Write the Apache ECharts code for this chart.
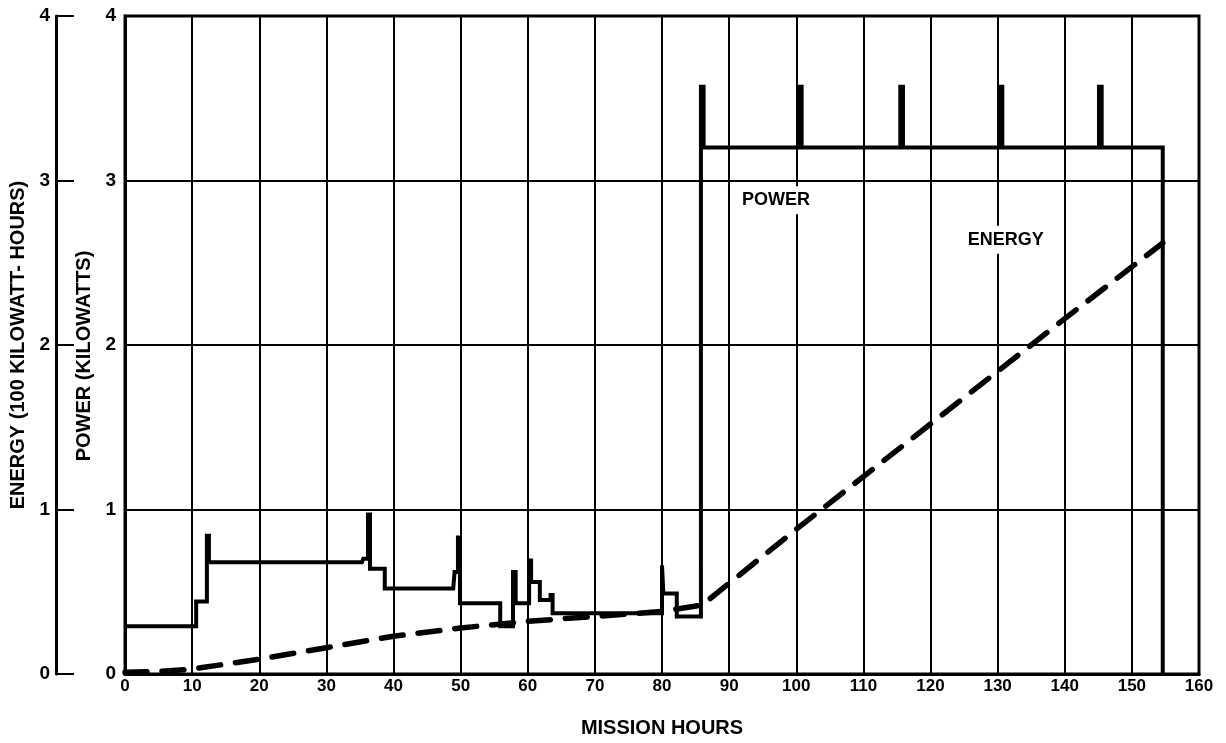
<!DOCTYPE html>
<html>
<head>
<meta charset="utf-8">
<script src="https://cdn.jsdelivr.net/npm/echarts@6/dist/echarts.min.js"></script>
<style>
  html, body { margin: 0; padding: 0; background: #ffffff; }
  #chart { width: 1226px; height: 743px; }
</style>
</head>
<body>
<div id="chart"></div>
<script>
// ---- data (mission hours, value) ----
const xTicks = [0, 10, 20, 30, 40, 50, 60, 70, 80, 90, 100, 110, 120, 130, 140, 150, 160];
const yTicks = [0, 1, 2, 3, 4];

// Power (kilowatts) as a stepped trace: hours
const powerHours = [
  0, 10.6, 10.6, 12.2, 12.2, 12.5, 12.5, 35.3, 35.5, 36.2, 36.2, 36.5, 36.5, 38.7, 38.7,
  48.9, 49.1, 49.6, 49.6, 49.9, 49.9, 55.9, 55.9, 57.8, 57.8, 58.2, 58.2, 60.2, 60.2, 60.5,
  60.5, 61.8, 61.8, 63.4, 63.4, 63.7, 63.7, 80.0, 80.0, 80.2, 80.2, 82.2, 82.2, 85.8, 85.8,
  86.2, 86.2, 100.4, 100.4, 100.8, 100.8, 115.5, 115.5, 115.9, 115.9, 130.3, 130.3, 130.7,
  130.7, 145.1, 145.1, 145.5, 145.5, 154.6, 154.6
];
// Power (kilowatts) values
const powerKW = [
  0.29, 0.29, 0.44, 0.44, 0.84, 0.84, 0.68, 0.68, 0.70, 0.70, 0.97, 0.97, 0.64, 0.64, 0.52,
  0.52, 0.62, 0.62, 0.83, 0.83, 0.43, 0.43, 0.29, 0.29, 0.62, 0.62, 0.43, 0.43, 0.69, 0.69,
  0.56, 0.56, 0.45, 0.45, 0.48, 0.48, 0.37, 0.37, 0.66, 0.66, 0.49, 0.49, 0.35, 0.35, 3.57,
  3.57, 3.20, 3.20, 3.57, 3.57, 3.20, 3.20, 3.57, 3.57, 3.20, 3.20, 3.57, 3.57,
  3.20, 3.20, 3.57, 3.57, 3.20, 3.20, 0
];

// Energy (100 kilowatt-hours)
const energyHours = [0, 5, 10, 20, 30, 40, 50, 60, 70, 80, 86, 100, 120, 140, 154.6];
const energyVal   = [0.01, 0.015, 0.03, 0.09, 0.16, 0.23, 0.28, 0.32, 0.35, 0.38, 0.42, 0.88, 1.52, 2.16, 2.62];

const labelTexts = { power: 'POWER', energy: 'ENERGY' };
const axisNames = {
  x: 'MISSION HOURS',
  power: 'POWER (KILOWATTS)',
  energy: 'ENERGY (100 KILOWATT- HOURS)'
};

// ---- build ----
const powerData = powerHours.map((h, i) => [h, powerKW[i]]);
const energyData = energyHours.map((h, i) => [h, energyVal[i]]);

const FONT = '"Liberation Sans", Arial, sans-serif';
const chart = echarts.init(document.getElementById('chart'), null, { renderer: 'canvas' });

const labelStyle = {
  show: true, position: 'inside', color: '#000', fontFamily: FONT, fontWeight: 'bold',
  fontSize: 18, backgroundColor: '#fff', padding: [5, 3]
};

chart.setOption({
  animation: false,
  backgroundColor: '#ffffff',
  grid: { left: 125, right: 27, top: 16, bottom: 61, show: true, borderColor: '#000', borderWidth: 3, backgroundColor: 'transparent' },
  xAxis: {
    type: 'value', min: xTicks[0], max: xTicks[xTicks.length - 1], interval: 10,
    axisLine: { show: true, lineStyle: { color: '#000', width: 3 } },
    axisTick: { show: false },
    splitLine: { show: true, lineStyle: { color: '#000', width: 2 } },
    axisLabel: { color: '#000', fontFamily: FONT, fontWeight: 'bold', fontSize: 17, margin: 4 },
    name: axisNames.x, nameLocation: 'middle', nameGap: 44,
    nameTextStyle: { color: '#000', fontFamily: FONT, fontWeight: 'bold', fontSize: 20 }
  },
  yAxis: [
    {
      type: 'value', min: yTicks[0], max: yTicks[yTicks.length - 1], interval: 1, position: 'left',
      axisLine: { show: true, lineStyle: { color: '#000', width: 3 } },
      axisTick: { show: false },
      splitLine: { show: true, lineStyle: { color: '#000', width: 2 } },
      axisLabel: { color: '#000', fontFamily: FONT, fontWeight: 'bold', fontSize: 19, margin: 9 },
      name: axisNames.power, nameLocation: 'middle', nameRotate: 90, nameGap: 30,
      nameTextStyle: { color: '#000', fontFamily: FONT, fontWeight: 'bold', fontSize: 20, padding: [0, 22, 0, 0] }
    },
    {
      type: 'value', min: yTicks[0], max: yTicks[yTicks.length - 1], interval: 1, position: 'left', offset: 69,
      axisLine: { show: true, lineStyle: { color: '#000', width: 3 } },
      axisTick: { show: true, inside: true, length: 18, lineStyle: { color: '#000', width: 2 } },
      splitLine: { show: false },
      axisLabel: { color: '#000', fontFamily: FONT, fontWeight: 'bold', fontSize: 19, margin: 6 },
      name: axisNames.energy, nameLocation: 'middle', nameRotate: 90, nameGap: 25,
      nameTextStyle: { color: '#000', fontFamily: FONT, fontWeight: 'bold', fontSize: 20 }
    }
  ],
  series: [
    {
      name: 'Energy', type: 'line', yAxisIndex: 1, data: energyData, symbol: 'none', smooth: false,
      lineStyle: { color: '#000', width: 5.5, type: [22, 15], cap: 'round' },
      markPoint: {
        symbol: 'rect', symbolSize: 1, itemStyle: { color: 'rgba(0,0,0,0)' },
        label: labelStyle,
        data: [{ coord: [131.2, 2.64], value: labelTexts.energy, label: { formatter: labelTexts.energy } }]
      },
      z: 3
    },
    {
      name: 'Power', type: 'line', yAxisIndex: 0, data: powerData, symbol: 'none', smooth: false,
      lineStyle: { color: '#000', width: 4, join: 'miter' },
      markPoint: {
        symbol: 'rect', symbolSize: 1, itemStyle: { color: 'rgba(0,0,0,0)' },
        label: labelStyle,
        data: [{ coord: [97.0, 2.88], value: labelTexts.power, label: { formatter: labelTexts.power } }]
      },
      z: 4
    }
  ]
});
</script>
</body>
</html>
